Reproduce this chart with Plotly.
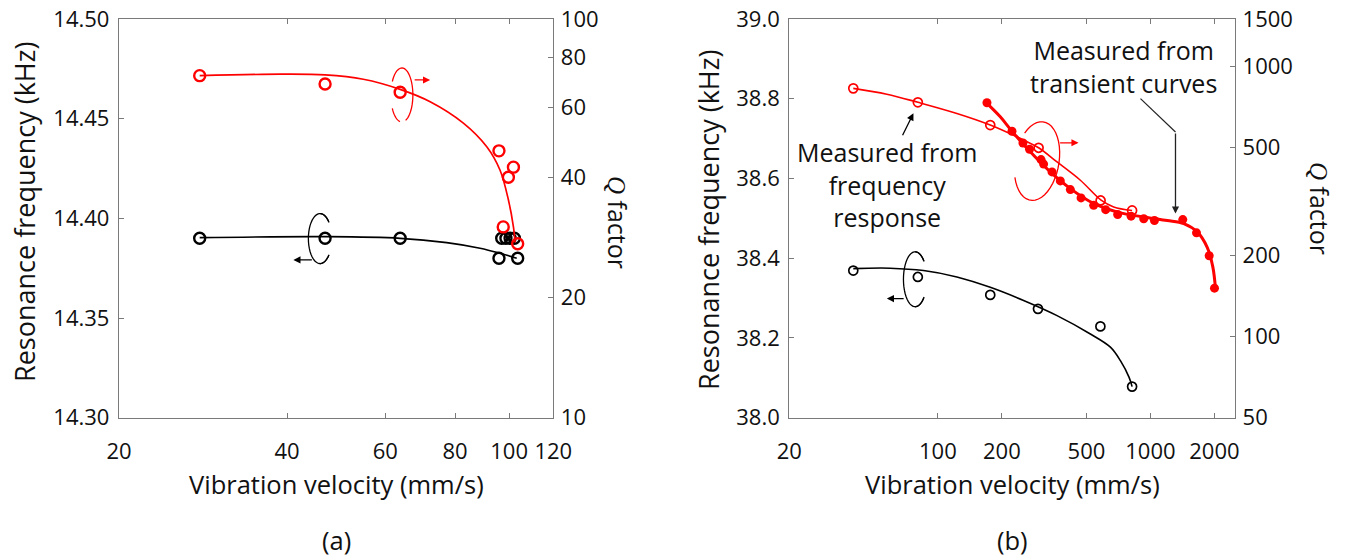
import math
import plotly.graph_objects as go

# ---------------- panel (a) ----------------
a_q_vel = [27.9, 46.8, 63.8, 95.9, 101.8, 99.7, 97.6, 103.6]
a_q = [72.1, 68.7, 65.5, 46.7, 42.5, 40.1, 30.1, 27.3]
a_f_vel = [27.9, 46.8, 63.8, 95.9, 97.0, 98.7, 100.4, 102.2, 103.6]
a_freq = [14.390, 14.390, 14.390, 14.380, 14.390, 14.390, 14.390, 14.390, 14.380]

a_fit_q_vel = [27.9, 38.9, 46.8, 54.8, 63.8, 72.2, 82.8, 91.2, 96.3, 99.7, 101.8, 102.5]
a_fit_q = [72.1, 72.7, 72.4, 70.6, 66.6, 62.0, 54.8, 47.8, 41.8, 35.2, 30.1, 27.5]
a_fit_f_vel = [27.9, 46.8, 63.8, 77.3, 88.7, 96.3, 103.2]
a_fit_f = [14.3903, 14.3908, 14.3900, 14.3878, 14.3850, 14.3825, 14.3800]

a_x_ticks = [20, 40, 60, 80, 100, 120]
a_f_ticks = [14.30, 14.35, 14.40, 14.45, 14.50]
a_q_ticks = [10, 20, 40, 60, 80, 100]

# ---------------- panel (b) ----------------
b_fr_vel = [40.0, 80.5, 176.4, 297.8, 583, 820]
b_fr_q = [830, 737, 607, 500, 319, 293]
b_tr_vel = [170.2, 223.2, 251.4, 270.0, 305.7, 314.4, 344.4, 376.9, 420.0, 471.7,
            540.8, 615.9, 701.5, 811.2, 930.0, 1044.6, 1420, 1647.6, 1890, 2002]
b_tr_q = [734, 576, 521, 494, 452, 435, 407, 377, 350, 326,
          306, 295, 283, 279, 273, 269, 271, 242, 199, 151]
b_f_vel = [40.0, 80.5, 176.4, 295.8, 581.6, 820]
b_freq = [38.369, 38.353, 38.308, 38.273, 38.229, 38.078]

b_fit_fr_vel = [40.0, 57.5, 80.5, 122.9, 176.4, 253.1, 297.8, 363.6, 468.2, 586, 671.8, 820]
b_fit_fr_q = [830, 790, 737, 670, 607, 534, 500, 443, 379, 320, 302, 293]
b_fit_tr_vel = [170.2, 196.6, 223.2, 272.2, 338.1, 420, 540.8, 722.4, 965, 1199, 1435, 1660, 1850, 1966, 2024]
b_fit_tr_q = [730, 651, 576, 483, 407, 353, 311, 287, 276, 269, 262, 244, 214, 181, 150]
b_fit_f_vel = [40.0, 59.6, 85.6, 122.9, 176.4, 253.1, 363.6, 521.8, 648.2, 722.4, 793.8, 820]
b_fit_f = [38.374, 38.375, 38.369, 38.353, 38.327, 38.294, 38.256, 38.210, 38.177, 38.143, 38.101, 38.078]

b_x_ticks = [20, 100, 200, 500, 1000, 2000]
b_f_ticks = [38.0, 38.2, 38.4, 38.6, 38.8, 39.0]
b_q_ticks = [50, 100, 200, 500, 1000, 1500]

W, H = 1346, 558
FONT = "Open Sans"
TXT = "#111111"
AX = "#7a7a7a"
RED = "#ff0000"

fig = go.Figure()

# --- panel (a) traces ---
fig.add_trace(go.Scatter(x=a_fit_q_vel, y=a_fit_q, mode="lines", line=dict(color=RED, width=1.7, shape="spline"),
                         xaxis="x", yaxis="y2", hoverinfo="skip"))
fig.add_trace(go.Scatter(x=a_fit_f_vel, y=a_fit_f, mode="lines", line=dict(color="black", width=1.7, shape="spline"),
                         xaxis="x", yaxis="y", hoverinfo="skip"))
fig.add_trace(go.Scatter(x=a_q_vel, y=a_q, mode="markers", xaxis="x", yaxis="y2",
                         marker=dict(symbol="circle-open", size=11, color=RED, line=dict(width=2.4, color=RED))))
fig.add_trace(go.Scatter(x=a_f_vel, y=a_freq, mode="markers", xaxis="x", yaxis="y",
                         marker=dict(symbol="circle-open", size=11, color="black", line=dict(width=2.4, color="black"))))

# --- panel (b) traces ---
fig.add_trace(go.Scatter(x=b_fit_fr_vel, y=b_fit_fr_q, mode="lines", line=dict(color=RED, width=1.6, shape="spline"),
                         xaxis="x2", yaxis="y4", hoverinfo="skip"))
fig.add_trace(go.Scatter(x=b_fit_tr_vel, y=b_fit_tr_q, mode="lines", line=dict(color=RED, width=3, shape="spline"),
                         xaxis="x2", yaxis="y4", hoverinfo="skip"))
fig.add_trace(go.Scatter(x=b_fit_f_vel, y=b_fit_f, mode="lines", line=dict(color="black", width=1.6, shape="spline"),
                         xaxis="x2", yaxis="y3", hoverinfo="skip"))
fig.add_trace(go.Scatter(x=b_fr_vel, y=b_fr_q, mode="markers", xaxis="x2", yaxis="y4",
                         marker=dict(symbol="circle-open", size=9, color=RED, line=dict(width=1.7, color=RED))))
fig.add_trace(go.Scatter(x=b_tr_vel, y=b_tr_q, mode="markers", xaxis="x2", yaxis="y4",
                         marker=dict(symbol="circle", size=9, color=RED)))
fig.add_trace(go.Scatter(x=b_f_vel, y=b_freq, mode="markers", xaxis="x2", yaxis="y3",
                         marker=dict(symbol="circle-open", size=9, color="black", line=dict(width=1.7, color="black"))))


def arc_path(cx, cy, rx, ry, t0, t1, rot=0.0, n=36):
    """Elliptic arc as a polyline path; offsets in px (y down), output y up."""
    pts = []
    c, s = math.cos(math.radians(rot)), math.sin(math.radians(rot))
    for i in range(n + 1):
        t = math.radians(t0 + (t1 - t0) * i / n)
        ex, ey = rx * math.cos(t), ry * math.sin(t)
        px = cx + ex * c - ey * s
        py = cy + ex * s + ey * c
        pts.append(f"{px:.2f},{-py:.2f}")
    return "M" + " L".join(pts)


def ring(xref, yref, ax_, ay_, arcs, color, width=1.3):
    for a in arcs:
        fig.add_shape(type="path", xref=xref, yref=yref, xsizemode="pixel", ysizemode="pixel",
                      xanchor=ax_, yanchor=ay_, path=a, line=dict(color=color, width=width))


def arrow(xref, yref, x, y, xs, ys, tx, ty, color):
    fig.add_annotation(xref=xref, yref=yref, x=x, y=y, xshift=xs, yshift=ys, text="",
                       showarrow=True, arrowhead=2, arrowsize=1.1, arrowwidth=1.3,
                       arrowcolor=color, ax=tx, ay=ty, standoff=0)


# rotation rings and direction arrows, panel (a)
ring("x", "y2", a_q_vel[2], a_q[2],
     [arc_path(1.7, 2.7, 11, 27, 100, 150), arc_path(1.7, 2.7, 11, 27, 210, 430)], RED)
arrow("x", "y2", math.log10(a_q_vel[2]), math.log10(a_q[2]), 30, 12.3, -17, 0, RED)
ring("x", "y", a_f_vel[1], a_freq[1],
     [arc_path(-5, 0.3, 11.7, 25, 40, 320), arc_path(-5, 0.3, 11.7, 25, -90, -42),
      arc_path(-5, 0.3, 11.7, 25, 42, 90)], "black")
arrow("x", "y", math.log10(a_f_vel[1]), a_freq[1], -31.7, -21.6, 20, 0, "black")

# rotation rings and direction arrows, panel (b)
ring("x2", "y4", b_fr_vel[3], b_fr_q[3],
     [arc_path(-1.6, 13.3, 22, 39.7, 220, 510, rot=9.6)], RED)
arrow("x2", "y4", math.log10(b_fr_vel[3]), math.log10(b_fr_q[3]), 40, 5, -20, 0, RED)
ring("x2", "y3", b_f_vel[1], b_freq[1],
     [arc_path(-2.7, 2.3, 11.7, 27.5, 40, 320), arc_path(-2.7, 2.3, 11.7, 27.5, -90, -42),
      arc_path(-2.7, 2.3, 11.7, 27.5, 42, 90)], "black")
arrow("x2", "y3", math.log10(b_f_vel[1]), b_freq[1], -31, -21.6, 18.3, 0, "black")

# pointer to the frequency-response data
arrow("x2", "y4", math.log10(b_fr_vel[1]), math.log10(b_fr_q[1]), -4.4, -11, -11.6, 23.4, "black")
# bent pointer to the transient data
fig.add_shape(type="path", xref="x2", yref="y4", xsizemode="pixel", ysizemode="pixel",
              xanchor=b_tr_vel[16], yanchor=b_tr_q[16], path="M-42.3,121 L-7.3,87.6",
              line=dict(color="#222222", width=1.2))
arrow("x2", "y4", math.log10(b_tr_vel[16]), math.log10(b_tr_q[16]), -7.3, 6, 0, -81.6, "#222222")


def ptext(x, y, text, size=24, angle=0):
    fig.add_annotation(xref="paper", yref="paper", x=x / W, y=1 - y / H, text=text, showarrow=False,
                       textangle=angle, xanchor="center", yanchor="middle",
                       font=dict(family=FONT, size=size, color=TXT))


QLAB = "<span style='font-family:Liberation Serif'><i>Q</i></span> factor"
ptext(24, 212, "Resonance frequency (kHz)", 27, -90)
ptext(618, 222, QLAB, 25, 90)
ptext(336, 484, "Vibration velocity (mm/s)", 25.5)
ptext(336, 540, "(a)", 25.5)
ptext(709, 220, "Resonance frequency (kHz)", 27, -90)
ptext(1320, 208, QLAB, 25, 90)
ptext(1012, 484, "Vibration velocity (mm/s)", 25.5)
ptext(1012, 540, "(b)", 25.5)
ptext(887.5, 184.5, "Measured from<br>frequency<br>response", 25)
ptext(1123, 67, "Measured from<br>transient curves", 25)

tickfont = dict(family=FONT, size=22, color=TXT)
common = dict(showgrid=False, zeroline=False, showline=True, linecolor=AX, linewidth=1.3,
              ticks="inside", ticklen=5, tickcolor=AX, tickwidth=1.2, tickfont=tickfont,
              automargin=False)

ydom = [1 - 417.7 / H, 1 - 19 / H]
fig.update_layout(
    template=None,
    width=W, height=H, autosize=False,
    margin=dict(l=0, r=0, t=0, b=0, pad=0, autoexpand=False),
    paper_bgcolor="white", plot_bgcolor="white", showlegend=False,
    xaxis=dict(domain=[119 / W, 553.3 / W], type="log", range=[math.log10(20), math.log10(120)],
               tickvals=a_x_ticks, ticktext=[str(v) for v in a_x_ticks], anchor="y", mirror="ticks",
               ticklabelstandoff=14, **common),
    yaxis=dict(domain=ydom, range=[14.30, 14.50], tickvals=a_f_ticks, tickformat=".2f", anchor="x",
               ticklabelstandoff=4, **common),
    yaxis2=dict(overlaying="y", side="right", anchor="x", type="log", range=[1, 2],
                tickvals=a_q_ticks, ticktext=[str(v) for v in a_q_ticks], ticklabelstandoff=2, **common),
    xaxis2=dict(domain=[789.3 / W, 1235 / W], type="log", range=[math.log10(20), math.log10(2500)],
                tickvals=b_x_ticks, ticktext=[str(v) for v in b_x_ticks], anchor="y3", mirror="ticks",
                ticklabelstandoff=14, **common),
    yaxis3=dict(domain=ydom, range=[38.0, 39.0], tickvals=b_f_ticks, tickformat=".1f", anchor="x2",
                ticklabelstandoff=4, **common),
    yaxis4=dict(overlaying="y3", side="right", anchor="x2", type="log",
                range=[math.log10(50), math.log10(1500)],
                tickvals=b_q_ticks, ticktext=[str(v) for v in b_q_ticks], ticklabelstandoff=2, **common),
)

fig.write_html("out.html")
